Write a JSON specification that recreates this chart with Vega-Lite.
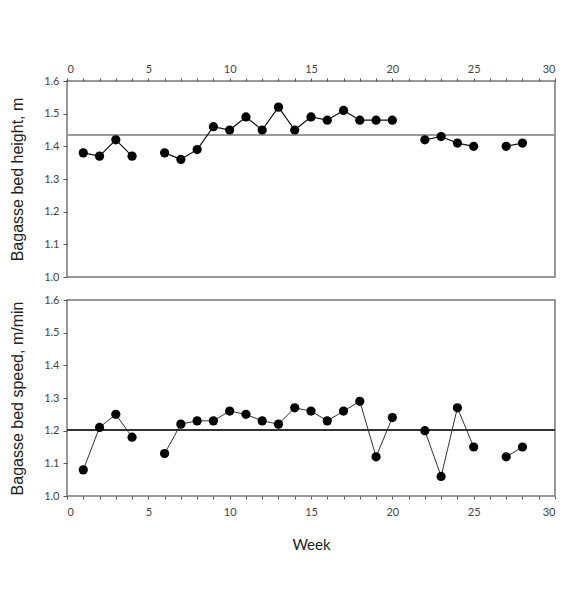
{
  "$schema": "https://vega.github.io/schema/vega-lite/v6.json",
  "padding": {"left": 8, "top": 62, "right": 16, "bottom": 5},
  "background": "white",
  "datasets": {
    "bed": [
      {"week": 1, "seg": "a", "height": 1.38, "speed": 1.08},
      {"week": 2, "seg": "a", "height": 1.37, "speed": 1.21},
      {"week": 3, "seg": "a", "height": 1.42, "speed": 1.25},
      {"week": 4, "seg": "a", "height": 1.37, "speed": 1.18},
      {"week": 6, "seg": "b", "height": 1.38, "speed": 1.13},
      {"week": 7, "seg": "b", "height": 1.36, "speed": 1.22},
      {"week": 8, "seg": "b", "height": 1.39, "speed": 1.23},
      {"week": 9, "seg": "b", "height": 1.46, "speed": 1.23},
      {"week": 10, "seg": "b", "height": 1.45, "speed": 1.26},
      {"week": 11, "seg": "b", "height": 1.49, "speed": 1.25},
      {"week": 12, "seg": "b", "height": 1.45, "speed": 1.23},
      {"week": 13, "seg": "b", "height": 1.52, "speed": 1.22},
      {"week": 14, "seg": "b", "height": 1.45, "speed": 1.27},
      {"week": 15, "seg": "b", "height": 1.49, "speed": 1.26},
      {"week": 16, "seg": "b", "height": 1.48, "speed": 1.23},
      {"week": 17, "seg": "b", "height": 1.51, "speed": 1.26},
      {"week": 18, "seg": "b", "height": 1.48, "speed": 1.29},
      {"week": 19, "seg": "b", "height": 1.48, "speed": 1.12},
      {"week": 20, "seg": "b", "height": 1.48, "speed": 1.24},
      {"week": 22, "seg": "c", "height": 1.42, "speed": 1.20},
      {"week": 23, "seg": "c", "height": 1.43, "speed": 1.06},
      {"week": 24, "seg": "c", "height": 1.41, "speed": 1.27},
      {"week": 25, "seg": "c", "height": 1.40, "speed": 1.15},
      {"week": 27, "seg": "d", "height": 1.40, "speed": 1.12},
      {"week": 28, "seg": "d", "height": 1.41, "speed": 1.15}
    ]
  },
  "spacing": 10,
  "vconcat": [
    {
      "width": 488,
      "height": 196,
      "data": {"name": "bed"},
      "encoding": {
        "x": {
          "field": "week", "type": "quantitative",
          "scale": {"domain": [0, 30], "nice": false},
          "axis": {
            "orient": "top", "title": null,
            "values": [0,1,2,3,4,5,6,7,8,9,10,11,12,13,14,15,16,17,18,19,20,21,22,23,24,25,26,27,28,29,30],
            "labelExpr": "datum.value % 5 === 0 ? datum.label : ''"
          }
        },
        "y": {
          "field": "height", "type": "quantitative",
          "scale": {"domain": [1.0, 1.6], "nice": false, "zero": false},
          "axis": {"title": "Bagasse bed height, m", "values": [1.0, 1.1, 1.2, 1.3, 1.4, 1.5, 1.6], "format": ".1f", "labelOverlap": false}
        }
      },
      "layer": [
        {
          "mark": {"type": "rule", "color": "#9a9a9a", "strokeWidth": 1.5},
          "encoding": {
            "x": null,
            "y": {"datum": 1.435, "type": "quantitative",
              "axis": {"title": "Bagasse bed height, m", "values": [1.0, 1.1, 1.2, 1.3, 1.4, 1.5, 1.6], "format": ".1f", "labelOverlap": false}}
          }
        },
        {
          "mark": {"type": "line", "color": "#111", "strokeWidth": 1.2},
          "encoding": {"detail": {"field": "seg"}}
        },
        {
          "mark": {"type": "point", "filled": true, "color": "#000", "opacity": 1, "size": 85}
        }
      ]
    },
    {
      "width": 488,
      "height": 196,
      "data": {"name": "bed"},
      "encoding": {
        "x": {
          "field": "week", "type": "quantitative",
          "scale": {"domain": [0, 30], "nice": false},
          "axis": {
            "orient": "bottom", "title": "Week", "labelPadding": 7,
            "values": [0,1,2,3,4,5,6,7,8,9,10,11,12,13,14,15,16,17,18,19,20,21,22,23,24,25,26,27,28,29,30],
            "labelExpr": "datum.value % 5 === 0 ? datum.label : ''"
          }
        },
        "y": {
          "field": "speed", "type": "quantitative",
          "scale": {"domain": [1.0, 1.6], "nice": false, "zero": false},
          "axis": {"title": "Bagasse bed speed, m/min", "values": [1.0, 1.1, 1.2, 1.3, 1.4, 1.5, 1.6], "format": ".1f", "labelOverlap": false}
        }
      },
      "layer": [
        {
          "mark": {"type": "rule", "color": "#333", "strokeWidth": 1.5},
          "encoding": {
            "x": null,
            "y": {"datum": 1.203, "type": "quantitative",
              "axis": {"title": "Bagasse bed speed, m/min", "values": [1.0, 1.1, 1.2, 1.3, 1.4, 1.5, 1.6], "format": ".1f", "labelOverlap": false}}
          }
        },
        {
          "mark": {"type": "line", "color": "#333", "strokeWidth": 1},
          "encoding": {"detail": {"field": "seg"}}
        },
        {
          "mark": {"type": "point", "filled": true, "color": "#000", "opacity": 1, "size": 85}
        }
      ]
    }
  ],
  "config": {
    "view": {"stroke": "#777", "strokeWidth": 1.5},
    "axis": {
      "grid": false,
      "domain": false,
      "tickColor": "#555",
      "tickSize": 3,
      "labelFont": "Lato",
      "labelFontSize": 11,
      "labelColor": "#444",
      "labelPadding": 4,
      "labelOverlap": false,
      "titleFont": "Liberation Sans",
      "titleFontSize": 16,
      "titleFontWeight": "normal",
      "titleColor": "#222"
    },
    "axisY": {"titlePadding": 18, "tickSize": 4},
    "axisX": {"titlePadding": 20, "titleFont": "Lato", "titleFontSize": 15}
  }
}
